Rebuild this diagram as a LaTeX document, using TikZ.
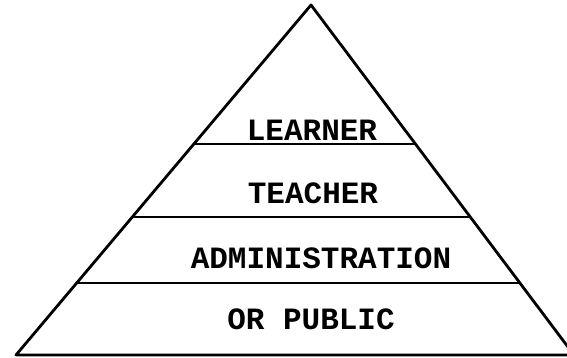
\documentclass[tikz,border=0pt]{standalone}
\usepackage{fontspec}
\setmonofont{Liberation Mono}
\usetikzlibrary{calc}
\tikzset{
    edge/.style={line width=2.8pt, line join=round, line cap=round},
    layer/.style={line width=2.4pt},
    tier/.style={font=\fontsize{31}{31}\selectfont\ttfamily\bfseries, inner sep=0pt},
}

\begin{document}
\begin{tikzpicture}[x=1pt, y=-1pt]
    \useasboundingbox (0,0) rectangle (567,358);

    % Corners of the pyramid
    \coordinate (apex) at (311,5);
    \coordinate (left) at (16,355);
    \coordinate (right) at (574,355);

    % Outline
    \draw[edge] (left) -- (apex) -- (right) -- cycle;

    % Layer boundaries
    \draw[layer] ($(left)!0.603!(apex)$) -- ($(right)!0.603!(apex)$);
    \draw[layer] ($(left)!0.394!(apex)$) -- ($(right)!0.394!(apex)$);
    \draw[layer] ($(left)!0.206!(apex)$) -- ($(right)!0.206!(apex)$);

    % Labels
    \node[tier] (learner) at (312,130) {LEARNER};
    \node[tier] (teacher) at (313,193) {TEACHER};
    \node[tier] (admin) at (321,258) {ADMINISTRATION};
    \node[tier] (public) at (311,319) {OR PUBLIC};
\end{tikzpicture}
\end{document}
